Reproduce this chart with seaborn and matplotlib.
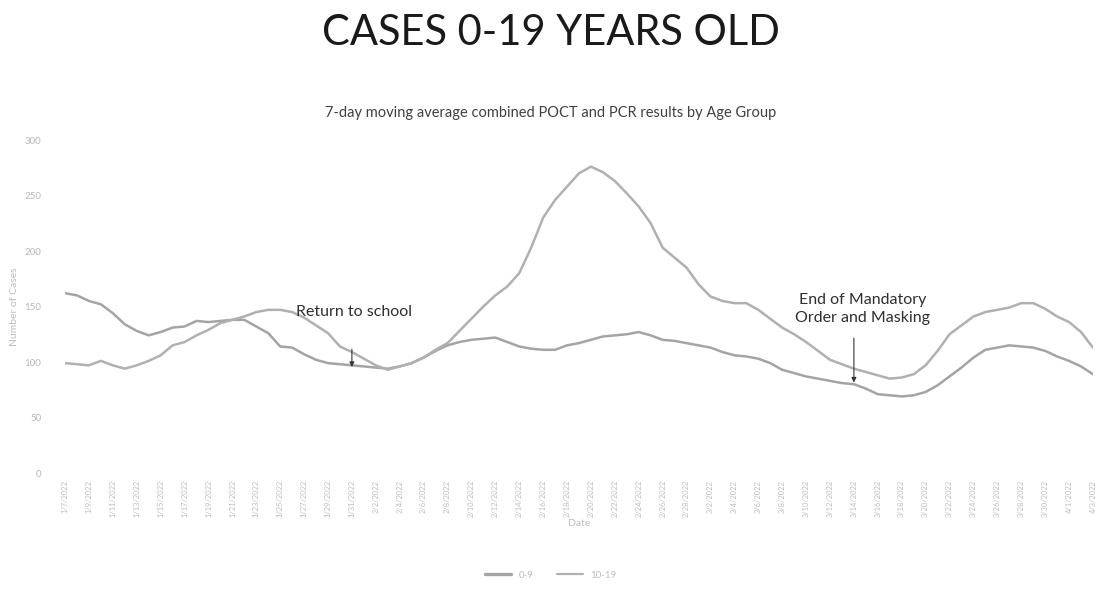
import matplotlib
matplotlib.use("Agg")
import matplotlib.pyplot as plt
import seaborn as sns
import pandas as pd

# Daily dates covered by the 7-day moving average
start_date = "2022-01-07"
end_date = "2022-04-03"

# 7-day moving average of cases, ages 0-9
cases_0_9 = [
    162, 160, 155, 152, 144, 134, 128, 124, 127, 131,
    132, 137, 136, 137, 138, 138, 132, 126, 114, 113,
    107, 102, 99, 98, 97, 96, 95, 94, 96, 99,
    104, 110, 115, 118, 120, 121, 122, 118, 114, 112,
    111, 111, 115, 117, 120, 123, 124, 125, 127, 124,
    120, 119, 117, 115, 113, 109, 106, 105, 103, 99,
    93, 90, 87, 85, 83, 81, 80, 76, 71, 70,
    69, 70, 73, 79, 87, 95, 104, 111, 113, 115,
    114, 113, 110, 105, 101, 96, 89,
]

# 7-day moving average of cases, ages 10-19
cases_10_19 = [
    99, 98, 97, 101, 97, 94, 97, 101, 106, 115,
    118, 124, 129, 135, 138, 141, 145, 147, 147, 145,
    140, 133, 126, 114, 109, 103, 97, 93, 96, 99,
    104, 111, 117, 128, 139, 150, 160, 168, 180, 203,
    230, 246, 258, 270, 276, 271, 263, 252, 240, 225,
    203, 194, 185, 170, 159, 155, 153, 153, 147, 139,
    131, 125, 118, 110, 102, 98, 94, 91, 88, 85,
    86, 89, 97, 110, 125, 133, 141, 145, 147, 149,
    153, 153, 148, 141, 136, 127, 113,
]

group_names = ["0-9", "10-19"]
y_ticks = [0, 50, 100, 150, 200, 250, 300]

dates = pd.date_range(start_date, end_date, freq="D")
date_labels = [f"{d.month}/{d.day}/{d.year}" for d in dates]
day_index = list(range(len(dates)))

df = pd.DataFrame({
    "day": day_index * 2,
    "cases": cases_0_9 + cases_10_19,
    "group": [group_names[0]] * len(dates) + [group_names[1]] * len(dates),
})

sns.set_theme(style="white")
plt.rcParams["font.family"] = ["Lato", "DejaVu Sans"]

fig = plt.figure(figsize=(11.02, 5.90), dpi=100)
ax = fig.add_axes([0.059, 0.1983, 0.9328, 0.5644])

palette = {group_names[0]: "#a4a4a4", group_names[1]: "#b0b0b0"}
sns.lineplot(data=df, x="day", y="cases", hue="group", palette=palette,
             linewidth=1.8, ax=ax, legend=False)

ax.set_xlim(0, len(dates) - 1)
ax.set_ylim(0, 300)
ax.set_yticks(y_ticks)
ax.set_yticklabels([str(v) for v in y_ticks], fontsize=7, color="#b8b8b8")
ax.set_xticks(day_index[::2])
ax.set_xticklabels(date_labels[::2], rotation=90, fontsize=5.4, color="#bdbdbd")
ax.tick_params(axis="x", length=0, pad=5)
ax.tick_params(axis="y", length=0, pad=17)
for side in ["top", "right", "left", "bottom"]:
    ax.spines[side].set_visible(False)
ax.grid(False)

ax.set_ylabel("Number of Cases", fontsize=7.5, color="#bdbdbd", labelpad=4)
ax.set_xlabel("Date", fontsize=7.5, color="#bdbdbd", labelpad=1)

# Event markers
arrow_style = dict(arrowstyle="-|>", color="#333333", lw=0.8, mutation_scale=7)
ax.annotate("", xy=(24, 93), xytext=(24, 114), arrowprops=arrow_style)
ax.text(24.2, 145, "Return to school", ha="center", va="center",
        fontsize=11.5, color="#2f2f2f")
ax.annotate("", xy=(66, 79), xytext=(66, 124), arrowprops=arrow_style)
ax.text(66.7, 148, "End of Mandatory\nOrder and Masking", ha="center", va="center",
        fontsize=11.5, color="#2f2f2f", linespacing=1.35)

# Titles
fig.text(0.5, 0.944, "CASES 0-19 YEARS OLD", ha="center", va="center",
         fontsize=30, color="#1a1a1a")
fig.text(0.5, 0.808, "7-day moving average combined POCT and PCR results by Age Group",
         ha="center", va="center", fontsize=10.5, color="#404040")

# Legend
handles = [
    plt.Line2D([], [], color=palette[group_names[0]], lw=2.4),
    plt.Line2D([], [], color=palette[group_names[1]], lw=1.6),
]
fig.legend(handles, group_names, loc="center", bbox_to_anchor=(0.5, 0.025),
           ncol=2, frameon=False, fontsize=7, labelcolor="#bdbdbd",
           handlelength=2.6, columnspacing=2.5)

fig.savefig("out.png", dpi=100)
